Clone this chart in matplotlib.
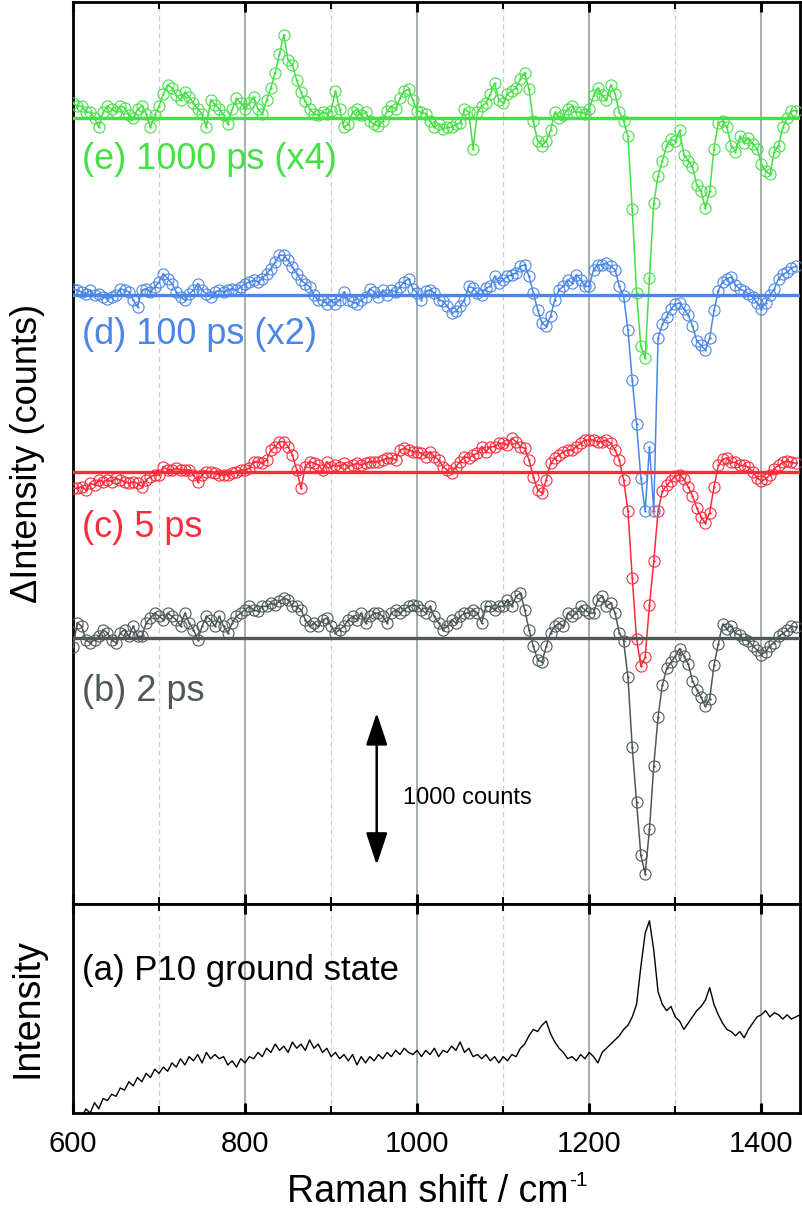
import numpy as np
import matplotlib
matplotlib.use("Agg")
import matplotlib.pyplot as plt
from matplotlib.ticker import MultipleLocator

plt.rcParams['font.family'] = ['Liberation Sans', 'DejaVu Sans']

# ---------------- data ----------------
shift = np.arange(600, 1441, 5)          # Raman shift (cm-1), transient spectra
gs_shift = np.arange(600, 1446, 5)       # Raman shift (cm-1), ground state

# (e) 1000 ps (x4), delta counts
e_1000ps = [100, 80, 80, 40, 40, 0, -60, 40, 80, 60,
            40, 80, 70, 20, 0, 60, 80, 30, -60, 20,
            80, 160, 220, 200, 150, 120, 170, 140, 100, 60,
            30, -60, 120, 90, 60, 20, -40, 60, 130, 100,
            60, 100, 140, 60, 30, 120, 200, 300, 420, 550,
            380, 350, 250, 170, 110, 60, 30, 20, 40, 30,
            50, 180, 60, -60, -40, 40, 60, 20, 40, -20,
            -40, -50, -20, 50, 80, 60, 130, 180, 190, 120,
            50, 40, 30, -20, -60, -40, -70, -60, -60, -40,
            -30, 60, 40, -200, 40, 80, 100, 160, 230, 120,
            100, 160, 180, 200, 260, 300, 190, -20, -150, -180,
            -150, -80, 40, 0, 20, 60, 80, 40, 40, 30,
            60, 150, 200, 150, 120, 220, 160, 40, -20, -120,
            -600, -1150, -1500, -1580, -1050, -560, -380, -280, -180, -140,
            -150, -80, -240, -280, -320, -440, -480, -590, -480, -200,
            -30, -20, -60, -180, -220, -120, -160, -130, -170, -200,
            -300, -350, -370, -220, -180, -60, 0, 50, 50]

# (d) 100 ps (x2)
d_100ps = [44, 33, 22, 10, 33, 0, 10, -10, -22, -10,
           0, 44, 33, 22, -33, -77, 33, 44, 22, 55,
           88, 142, 110, 77, 22, -10, -33, 10, 33, 77,
           33, 10, -10, 22, 33, 22, 33, 44, 33, 55,
           77, 88, 99, 88, 110, 142, 175, 219, 263, 263,
           230, 186, 142, 99, 77, 55, 0, -33, -33, -55,
           -33, -55, -33, 22, -33, -44, -55, -33, -10, 44,
           22, -10, 33, 0, 33, 22, 55, 88, 110, 44,
           15, -28, 26, 37, 15, -28, -39, -72, -116, -105,
           -72, -28, 59, 48, 15, 4, 48, 59, 125, 81,
           103, 125, 136, 147, 190, 201, 125, 15, -94, -182,
           -204, -138, -28, 37, 59, 103, 81, 136, 103, 59,
           59, 169, 201, 201, 212, 190, 169, 59, -7, -230,
           -560, -850, -1200, -1420, -1000, -1420, -280, -190, -140, -90,
           -60, -50, -90, -130, -200, -300, -330, -360, -280, -100,
           30, 90, 110, 120, 70, 40, 30, 10, -10, -50,
           -90, -50, 0, 40, 110, 140, 150, 180, 190]

# (c) 5 ps
c_5ps = [-110, -110, -99, -120, -77, -88, -55, -66, -55, -66,
         -44, -55, -66, -77, -66, -77, -99, -55, -33, -22,
         -22, 33, 11, 11, 22, 11, 11, 11, -22, -66,
         -22, 0, 0, -11, -22, -22, -22, -11, 0, 11,
         11, 22, 66, 66, 55, 77, 142, 164, 197, 197,
         164, 110, 11, -110, 33, 66, 55, 44, 11, 66,
         33, 44, 33, 55, 33, 44, 55, 44, 55, 66,
         66, 66, 77, 88, 88, 77, 142, 153, 142, 131,
         131, 120, 99, 131, 99, 77, 33, 11, -11, 33,
         66, 99, 88, 110, 120, 164, 131, 164, 164, 186,
         186, 175, 219, 197, 164, 153, 77, -33, -120, -142,
         -55, 55, 88, 110, 131, 142, 142, 164, 186, 208,
         208, 208, 197, 197, 208, 186, 142, 77, -55, -260,
         -700, -1100, -1280, -1220, -880, -590, -260, -130, -90, -60,
         -30, -20, -50, -100, -160, -240, -300, -340, -270, -100,
         40, 80, 90, 60, 60, 40, 40, 30, 0, -40,
         -60, -50, -20, 20, 40, 60, 70, 60, 55]

# (b) 2 ps
b_2ps = [-60, 100, 77, -11, -33, -11, 11, 55, 33, -11,
         -33, 33, 55, 11, 77, 11, 11, 99, 131, 164,
         142, 120, 164, 142, 120, 77, 164, 99, 55, -11,
         77, 142, 120, 77, 142, 77, 33, 99, 142, 164,
         186, 208, 186, 175, 208, 208, 230, 219, 241, 263,
         252, 208, 208, 186, 120, 77, 99, 77, 120, 131,
         77, 33, 55, 77, 120, 142, 120, 164, 99, 142,
         164, 164, 142, 99, 164, 186, 164, 186, 208, 219,
         208, 186, 164, 208, 142, 99, 55, 77, 120, 99,
         142, 164, 164, 186, 164, 99, 208, 208, 186, 208,
         208, 252, 208, 274, 296, 186, 55, -55, -142, -160,
         -55, 33, 77, 99, 77, 164, 142, 164, 208, 186,
         164, 164, 252, 274, 208, 230, 164, 33, -20, -260,
         -720, -1080, -1430, -1550, -1260, -840, -520, -310, -200, -160,
         -120, -70, -120, -170, -280, -340, -390, -450, -400, -180,
         -40, 90, 60, 80, 30, 20, -10, -20, -50, -80,
         -110, -90, -50, -30, 10, 30, 50, 80, 70]

# (a) P10 ground state (arb. units)
ground = [-8, -5, -2, 2, 0, 5, 2, 7, 6, 9,
          8, 12, 11, 15, 13, 17, 15, 19, 17, 21,
          19, 22, 20, 24, 22, 26, 23, 27, 25, 28,
          24, 29, 26, 28, 26, 27, 23, 25, 22, 26,
          24, 27, 26, 29, 27, 31, 29, 33, 30, 32,
          29, 34, 31, 33, 30, 35, 31, 33, 29, 31,
          27, 29, 26, 28, 25, 28, 23, 27, 24, 27,
          25, 28, 26, 29, 27, 30, 28, 31, 29, 28,
          30, 27, 30, 28, 31, 27, 30, 29, 32, 30,
          34, 29, 31, 27, 28, 26, 28, 25, 27, 24,
          27, 25, 28, 27, 31, 33, 37, 40, 39, 42,
          44, 38, 34, 31, 29, 26, 27, 25, 28, 26,
          29, 27, 24, 29, 31, 33, 35, 37, 40, 42,
          46, 52, 70, 86, 92, 78, 58, 52, 49, 51,
          46, 44, 40, 43, 46, 49, 51, 54, 60, 52,
          47, 43, 40, 39, 37, 39, 36, 40, 43, 46,
          47, 49, 46, 48, 47, 45, 47, 45, 46, 47]

series_labels = ["(b) 2 ps", "(c) 5 ps", "(d) 100 ps (x2)", "(e) 1000 ps (x4)"]
series_data = [b_2ps, c_5ps, d_100ps, e_1000ps]
series_offsets = [1750, 2845, 4005, 5170]
series_colors = ["#4f5858", "#ff2b3b", "#4a86e8", "#44e044"]
label_y = [1395, 2480, 3745, 4895]

# ---------------- figure ----------------
fig = plt.figure(figsize=(8.03, 12.08), dpi=100)
ax1 = fig.add_axes([0.0909, 0.2517, 0.9054, 0.7467])
ax2 = fig.add_axes([0.0909, 0.0786, 0.9054, 0.1730])

for ax in (ax1, ax2):
    ax.set_xlim(600, 1445)
    ax.xaxis.set_major_locator(MultipleLocator(200))
    ax.xaxis.set_minor_locator(MultipleLocator(100))
    ax.grid(which='major', axis='x', color='#97a0a0', lw=1.2, zorder=0)
    ax.grid(which='minor', axis='x', color='#cccccc', lw=0.9, ls=(0, (4, 3)), zorder=0)
    ax.set_axisbelow(True)
    ax.tick_params(axis='x', which='both', direction='in', top=True, bottom=True)
    ax.tick_params(axis='x', which='major', length=7, width=2.2, labelsize=21, pad=12)
    ax.tick_params(axis='x', which='minor', length=5, width=1.4)
    ax.tick_params(axis='y', left=False, right=False, labelleft=False)
    for s in ax.spines.values():
        s.set_linewidth(2.0)

ax1.tick_params(axis='x', labelbottom=False)
ax1.set_ylim(0, 5935)

for lab, vals, off, col, ly in zip(series_labels, series_data, series_offsets,
                                   series_colors, label_y):
    y = off + np.asarray(vals, dtype=float)
    ax1.plot(shift, y, '-', color=col, lw=1.1, zorder=3)
    ax1.plot(shift, y, 'o', mfc='none', mec=col, ms=8, mew=0.8, zorder=4)
    ax1.plot(shift, y, '.', color=col, ms=1.5, zorder=4)
    ax1.axhline(off, color=col, lw=2.4, zorder=5)
    ax1.text(610, ly, lab, color=col, fontsize=26, ha='left', va='center', zorder=6)

# scale bar: 1000 counts
ax1.annotate('', xy=(953, 1257), xytext=(953, 257),
             arrowprops=dict(arrowstyle='<|-|>,head_length=0.9,head_width=0.3',
                             color='black', lw=1.8, mutation_scale=22,
                             shrinkA=0, shrinkB=0))
ax1.text(983, 700, '1000 counts', fontsize=17, ha='left', va='center')

ax1.set_ylabel('ΔIntensity (counts)', fontsize=26)
ax1.yaxis.set_label_coords(-0.038, 0.5)

ax2.plot(gs_shift, ground, color='black', lw=1.0, zorder=3)
ax2.set_ylim(0, 100)
ax2.text(610, 68, '(a) P10 ground state', fontsize=25, ha='left', va='center')
ax2.set_ylabel('Intensity', fontsize=27)
ax2.yaxis.set_label_coords(-0.038, 0.5)

# x label with a hyphen superscript "-1"
W, H = fig.bbox.width, fig.bbox.height
ybase = (1208 - 1202) / 1208
t_main = fig.text(0, ybase, 'Raman shift / cm', fontsize=27, va='baseline', ha='left')
t_sup = fig.text(0, ybase, '-1', fontsize=15, va='baseline', ha='left')
fig.canvas.draw()
r = fig.canvas.get_renderer()
w_main = t_main.get_window_extent(r).width
w_sup = t_sup.get_window_extent(r).width
x_center = (ax2.get_window_extent(r).x0 + ax2.get_window_extent(r).x1) / 2
x0 = x_center - (w_main + w_sup) / 2
t_main.set_x(x0 / W)
t_sup.set_x((x0 + w_main + 1) / W)
t_sup.set_y(ybase + 16 / H)

fig.savefig('out.png', dpi=100)
